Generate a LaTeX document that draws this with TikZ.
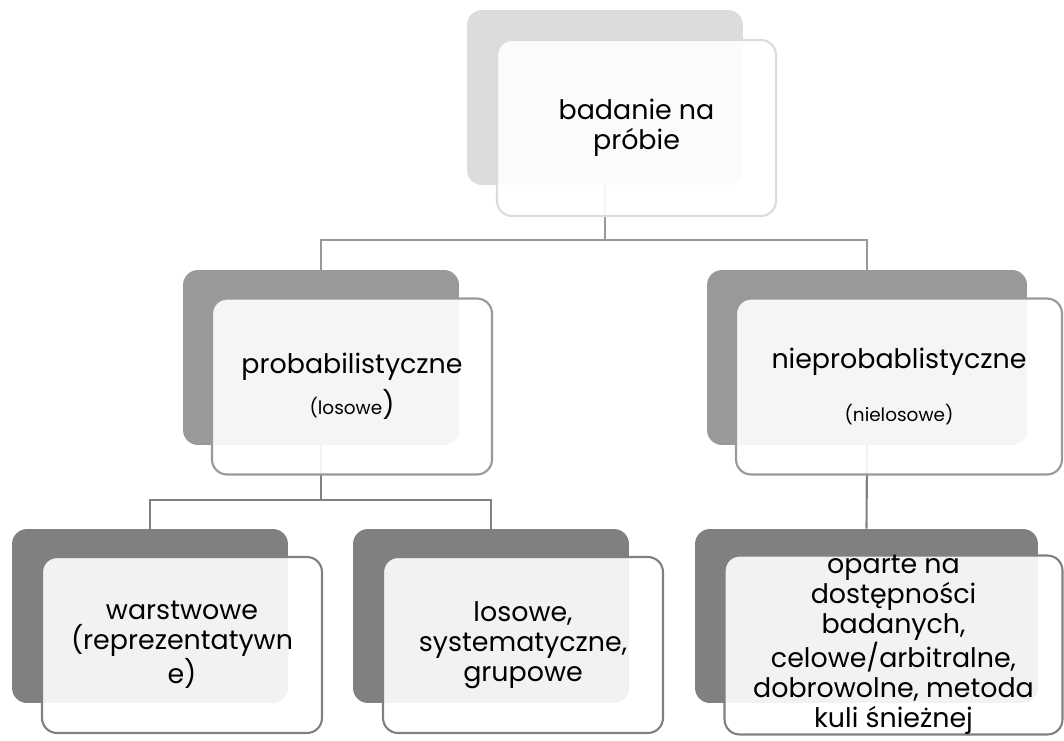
\documentclass[tikz,border=0pt]{standalone}
\usepackage{fontspec}
\setmainfont{Poppins}
\definecolor{paleback}{HTML}{DCDCDC}
\definecolor{midback}{HTML}{999999}
\definecolor{darkback}{HTML}{808080}
\begin{document}
\begin{tikzpicture}[x=0.02cm,y=-0.02cm,
  backbox/.style={rectangle, rounded corners=0.3cm, inner sep=0pt,
    minimum width=5.52cm, minimum height=3.5cm},
  frontbox/.style={rectangle, rounded corners=0.3cm, draw, line width=1.2pt,
    fill=white, fill opacity=0.9, text opacity=1, inner sep=0pt,
    minimum width=5.6cm, minimum height=3.52cm, align=center,
    font=\fontsize{15.3}{17}\selectfont},
  link/.style={line width=1.2pt}]
  \useasboundingbox (0,0) rectangle (1064,740);

  % Back boxes
  \node[backbox, fill=paleback] (top) at (605,97.5) {};
  \node[backbox, fill=midback] (prob) at (321,357.5) {};
  \node[backbox, fill=midback, minimum width=6.4cm] (nprob) at (867,357.5) {};
  \node[backbox, fill=darkback, minimum height=3.48cm] (warst) at (150,616) {};
  \node[backbox, fill=darkback, minimum height=3.48cm] (losow) at (491,616) {};
  \node[backbox, fill=darkback, minimum height=3.48cm, minimum width=6.86cm] (opart) at (866.5,616) {};

  % Links
  \coordinate (split1) at (605,240);
  \coordinate (split2) at (321,500);
  \draw[link, midback] (top.south) -- (split1) -| (prob.north);
  \draw[link, midback] (split1) -| (nprob.north);
  \draw[link, darkback] (prob.south) -- (split2) -| (warst.north);
  \draw[link, darkback] (split2) -| (losow.north);
  \draw[link, darkback] (nprob.south) -- (opart.north);

  % Front boxes
  \node[frontbox, draw=paleback, minimum width=5.58cm] (topf) at (636.5,128) {badanie na\\próbie};
  \node[frontbox, draw=midback] (probf) at (352,386.5) {probabilistyczne\\[4pt]{\fontsize{10.5}{12}\selectfont(losowe})};
  \node[frontbox, draw=midback, minimum width=6.52cm] (nprobf) at (899,386.5) {nieprobablistyczne\\[13pt]{\fontsize{10.5}{12}\selectfont(nielosowe)}};
  \node[frontbox, draw=darkback] (warstf) at (182,645) {warstwowe\\(reprezentatywn\\e)};
  \node[frontbox, draw=darkback] (losowf) at (523,645) {losowe,\\systematyczne,\\grupowe};
  \node[frontbox, draw=darkback, minimum width=6.76cm] (opartf) at (893.5,645) {oparte na\\dostępności\\badanych,\\celowe/arbitralne,\\dobrowolne, metoda\\kuli śnieżnej};
\end{tikzpicture}
\end{document}
